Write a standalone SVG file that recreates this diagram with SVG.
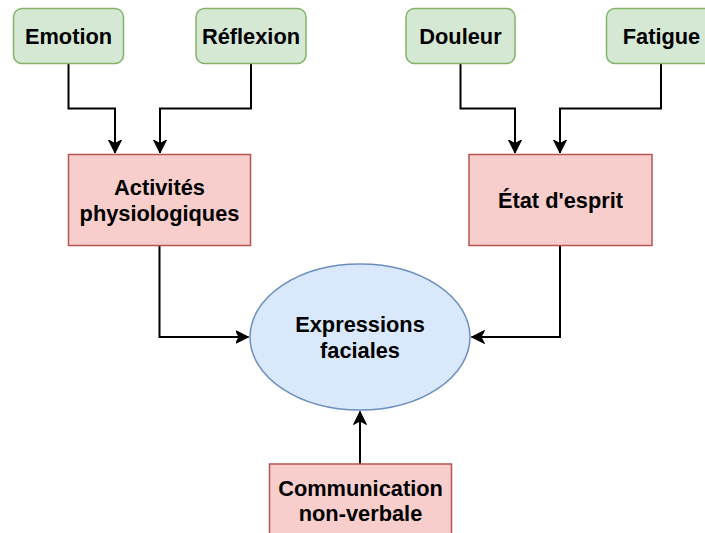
<svg xmlns="http://www.w3.org/2000/svg" width="705" height="533" viewBox="0 0 705 533">
  <style>
    .green { fill: #d5e8d4; stroke: #82b366; stroke-width: 1.5; }
    .red { fill: #f8cecc; stroke: #b85450; stroke-width: 1.5; }
    .blue { fill: #dae8fc; stroke: #6c8ebf; stroke-width: 1.5; }
    .label { font-family: "Liberation Sans", Arial, sans-serif; font-weight: bold; font-size: 21.8px; fill: #000; text-anchor: middle; }
    .edge { fill: none; stroke: #000; stroke-width: 2; }
  </style>
  <defs>
    <marker id="arrow" markerUnits="userSpaceOnUse" viewBox="0 0 14 14" refX="13" refY="7" markerWidth="14" markerHeight="14" orient="auto">
      <path d="M13,7 L0,0.5 L3.5,7 L0,13.5 Z" fill="#000" stroke="#000" stroke-width="1"/>
    </marker>
  </defs>

  <g id="edges">
    <path class="edge" d="M68.5,63.5 V108.5 H115 V153" marker-end="url(#arrow)"/>
    <path class="edge" d="M251,63.5 V108.5 H160 V153" marker-end="url(#arrow)"/>
    <path class="edge" d="M460.5,63.5 V108.5 H515 V153" marker-end="url(#arrow)"/>
    <path class="edge" d="M661,63.5 V108.5 H560 V153" marker-end="url(#arrow)"/>
    <path class="edge" d="M159.5,245.5 V337 H248.5" marker-end="url(#arrow)"/>
    <path class="edge" d="M560,245.5 V337 H471.5" marker-end="url(#arrow)"/>
    <path class="edge" d="M360,464 V411.5" marker-end="url(#arrow)"/>
  </g>

  <g id="emotion">
    <rect class="green" x="13.5" y="8.5" width="110" height="55" rx="8.5"/>
    <text class="label" x="68.5" y="43.5">Emotion</text>
  </g>
  <g id="reflexion">
    <rect class="green" x="196" y="8.5" width="110" height="55" rx="8.5"/>
    <text class="label" x="251" y="43.5">Réflexion</text>
  </g>
  <g id="douleur">
    <rect class="green" x="406" y="8.5" width="109" height="55" rx="8.5"/>
    <text class="label" x="460.5" y="43.5">Douleur</text>
  </g>
  <g id="fatigue">
    <rect class="green" x="606.5" y="8.5" width="110" height="55" rx="8.5"/>
    <text class="label" x="661.5" y="43.5">Fatigue</text>
  </g>

  <g id="activites">
    <rect class="red" x="68.5" y="154.5" width="182" height="91"/>
    <text class="label" x="159.5" y="195">Activités</text>
    <text class="label" x="159.5" y="220.5">physiologiques</text>
  </g>
  <g id="etat">
    <rect class="red" x="469" y="154.5" width="183" height="91"/>
    <text class="label" x="560.5" y="207.5">État d'esprit</text>
  </g>

  <g id="expressions">
    <ellipse class="blue" cx="360" cy="337" rx="110" ry="73"/>
    <text class="label" x="360" y="332">Expressions</text>
    <text class="label" x="360" y="357.5">faciales</text>
  </g>

  <g id="communication">
    <rect class="red" x="269.5" y="464" width="182" height="91"/>
    <text class="label" x="360.5" y="495.5">Communication</text>
    <text class="label" x="360.5" y="521">non-verbale</text>
  </g>
</svg>
